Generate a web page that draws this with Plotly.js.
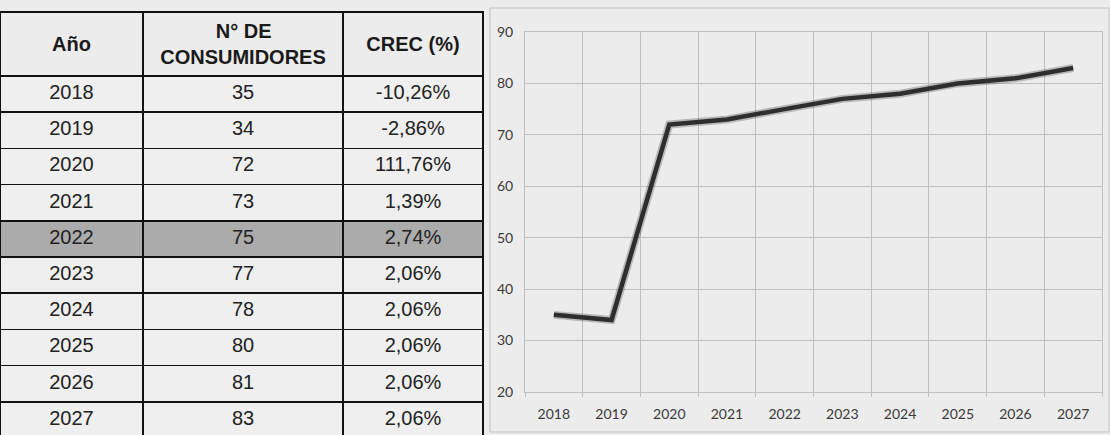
<!DOCTYPE html>
<html>
<head>
<meta charset="utf-8">
<script src="https://cdn.plot.ly/plotly-3.0.1.min.js"></script>
<style>
  html, body { margin: 0; padding: 0; background: #ececec; }
  #chart { width: 1110px; height: 435px; }
</style>
</head>
<body>
<div id="chart"></div>
<script>
// ---- data ----
const years = ['2018', '2019', '2020', '2021', '2022', '2023', '2024', '2025', '2026', '2027'];
const consumidores = [35, 34, 72, 73, 75, 77, 78, 80, 81, 83];
const crecimiento = ['-10,26%', '-2,86%', '111,76%', '1,39%', '2,74%', '2,06%', '2,06%', '2,06%', '2,06%', '2,06%'];
const headerAnio = 'Año';
const headerConsLine1 = 'N° DE';
const headerConsLine2 = 'CONSUMIDORES';
const headerCrec = 'CREC (%)';
const highlightYear = '2022';
const yTicks = [20, 30, 40, 50, 60, 70, 80, 90];

// ---- styling ----
const W = 1110, H = 435;
const bg = '#ececec';
const cellBg = '#efefef';
const hiBg = '#ababab';
const rowFill = years.map(y => (y === highlightYear ? hiBg : cellBg));
const NB = '\u00a0';
const headFont = 20;
const spacerFont = 14;
const lowered = t => NB + '<br><span style="font-size:' + headFont + 'px">' + t + '</span>';
const headers = [
  lowered(headerAnio),
  NB.repeat(10) + headerConsLine1 + '<br>' + headerConsLine2,
  lowered(headerCrec)
];

const tableTrace = {
  type: 'table',
  domain: { x: [0, 483 / W], y: [0, 423 / H] },
  columnwidth: [143, 200, 140],
  header: {
    values: headers,
    align: 'center',
    height: 61,
    fill: { color: bg },
    line: { color: '#111', width: 1.6 },
    font: { family: 'Liberation Sans, Arial, sans-serif', size: [spacerFont, headFont, spacerFont], color: '#1a1a1a', weight: 'bold' }
  },
  cells: {
    values: [years, consumidores.map(String), crecimiento],
    align: 'center',
    height: 36.2,
    fill: { color: [rowFill, rowFill, rowFill] },
    line: { color: '#111', width: 1.6 },
    font: { family: 'Liberation Sans, Arial, sans-serif', size: 20, color: '#222' }
  }
};

const shadowTrace = {
  type: 'scatter',
  mode: 'lines',
  x: years,
  y: consumidores,
  line: { color: 'rgba(0,0,0,0.22)', width: 8 },
  hoverinfo: 'skip',
  showlegend: false
};

const lineTrace = {
  type: 'scatter',
  mode: 'lines',
  x: years,
  y: consumidores,
  line: { color: '#2e2e2e', width: 4.5 },
  showlegend: false
};

const gridColor = '#c0c0c0';

const layout = {
  width: W,
  height: H,
  margin: { l: 0, r: 0, t: 0, b: 0 },
  paper_bgcolor: bg,
  plot_bgcolor: bg,
  showlegend: false,
  xaxis: {
    type: 'category',
    domain: [525 / W, 1102 / W],
    range: [-0.5, years.length - 0.5],
    tickson: 'boundaries',
    ticks: 'outside',
    ticklen: 4,
    tickcolor: gridColor,
    showgrid: true,
    gridcolor: gridColor,
    gridwidth: 1,
    showline: true,
    mirror: true,
    linecolor: gridColor,
    linewidth: 1,
    zeroline: false,
    ticklabelstandoff: 9,
    tickfont: { family: 'Lato, Open Sans, sans-serif', size: 14, color: '#3a3a3a' },
    fixedrange: true
  },
  yaxis: {
    domain: [43 / H, 403 / H],
    range: [20, 90],
    tickvals: yTicks,
    ticktext: yTicks.map(String),
    showgrid: true,
    gridcolor: gridColor,
    gridwidth: 1,
    showline: true,
    mirror: true,
    linecolor: gridColor,
    linewidth: 1,
    zeroline: false,
    ticks: '',
    ticklabelstandoff: 8,
    tickfont: { family: 'Lato, Open Sans, sans-serif', size: 14, color: '#3a3a3a' },
    fixedrange: true
  },
  shapes: [
    {
      type: 'rect', xref: 'paper', yref: 'paper',
      x0: 490 / W, x1: 1109 / W, y0: 3 / H, y1: 427 / H,
      line: { color: '#c4c4c4', width: 1 }, fillcolor: 'rgba(0,0,0,0)', layer: 'below'
    }
  ]
};

Plotly.newPlot('chart', [tableTrace, shadowTrace, lineTrace], layout, { displayModeBar: false, staticPlot: true });
</script>
</body>
</html>
